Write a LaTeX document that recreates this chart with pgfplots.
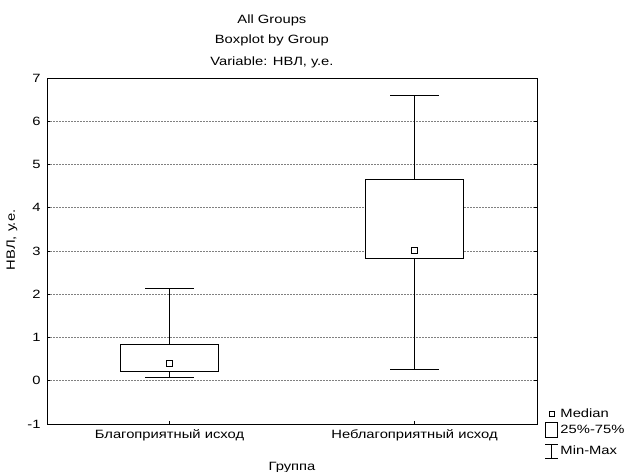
\documentclass[border=0pt]{standalone}
\usepackage{fontspec}
\setmainfont{Liberation Sans}[FakeStretch=1.23]
\usepackage{pgfplots}
\pgfplotsset{compat=1.18}
\usepgfplotslibrary{statistics}
\newcommand{\cf}{\fontsize{12bp}{14bp}\selectfont}
\begin{document}
\begin{tikzpicture}
\useasboundingbox (-47bp,-48bp) rectangle (580bp,424bp);
\begin{axis}[
  name=ax,
  at={(0,0)}, anchor=south west,
  scale only axis, width=490bp, height=346bp,
  xmin=0.5, xmax=2.5, ymin=-1, ymax=7,
  xtick={1,2}, xticklabels={Благоприятный исход, Неблагоприятный исход},
  ytick={-1,0,1,2,3,4,5,6,7},
  xtick pos=lower, ytick pos=both,
  major tick length=3bp,
  tick style={black, line width=0.8bp},
  axis line style={line width=1bp},
  ymajorgrids,
  major grid style={gray, line width=0.7bp, dash pattern=on 2bp off 1bp},
  /pgf/number format/assume math mode=true,
  tick label style={font=\cf},
  yticklabel style={xshift=-3bp},
  xticklabel style={yshift=-2bp},
  xlabel={Группа},
  xlabel style={font=\cf, at={(axis description cs:0.5,0)}, anchor=north, inner sep=0pt, yshift=-38bp},
  ylabel={НВЛ, у.е.},
  ylabel style={font=\cf, at={(axis description cs:-0.0714,0.532)}, anchor=center, inner sep=0pt},
  boxplot/draw direction=y,
  boxplot/draw/median/.code={},
  legend style={at={(axis description cs:1.0163,0.049)}, anchor=north west, draw=none, fill=none,
    inner sep=0pt, outer sep=0pt, row sep=0pt, column sep=2bp,
    nodes={inner sep=0pt, font=\cf}},
  legend cell align=left,
  clip=false,
]
\addplot+[forget plot, black, solid, line width=1bp, fill=white, mark=none,
  boxplot prepared={lower whisker=0.08, lower quartile=0.215, median=0.40,
    upper quartile=0.83, upper whisker=2.13, draw position=1,
    box extend=0.4, whisker extend=0.2}] coordinates {};
\addplot+[forget plot, black, solid, line width=1bp, fill=white, mark=none,
  boxplot prepared={lower whisker=0.25, lower quartile=2.83, median=3.01,
    upper quartile=4.65, upper whisker=6.60, draw position=2,
    box extend=0.4, whisker extend=0.2}] coordinates {};
\addplot[forget plot, only marks, mark=square, mark size=2.8bp, black, line width=0.8bp,
  mark options={fill=white}] coordinates {(1,0.40) (2,3.01)};
\addlegendimage{legend image code/.code={
  \path[draw=none, fill=none] (0bp,-7bp) rectangle (13bp,7bp);
  \draw[black, fill=none, line width=0.8bp] (3.5bp,-2.6bp) rectangle (8.8bp,2.6bp);}}
\addlegendentry{Median}
\addlegendimage{legend image code/.code={
  \path[draw=none, fill=none] (0bp,-9bp) rectangle (13bp,9bp);
  \draw[black, fill=none, line width=1bp] (0bp,-7.5bp) rectangle (12.5bp,7.5bp);}}
\addlegendentry{25\%-75\%}
\addlegendimage{legend image code/.code={
  \path[draw=none, fill=none] (0bp,-9bp) rectangle (13bp,12bp);
  \draw[black, fill=none, line width=1bp] (0bp,-7bp) -- (12.5bp,-7bp)
    (0bp,7bp) -- (12.5bp,7bp) (6.25bp,-7bp) -- (6.25bp,7bp);}}
\addlegendentry{Min-Max}
\node[font=\cf, anchor=base] at ([yshift=55bp]rel axis cs:0.459,1) {All Groups};
\node[font=\cf, anchor=base] at ([yshift=35bp]rel axis cs:0.459,1) {Boxplot by Group};
\node[font=\cf, anchor=base] at ([yshift=13bp]rel axis cs:0.459,1) {Variable: НВЛ, у.е.};
\end{axis}
\end{tikzpicture}
\end{document}
